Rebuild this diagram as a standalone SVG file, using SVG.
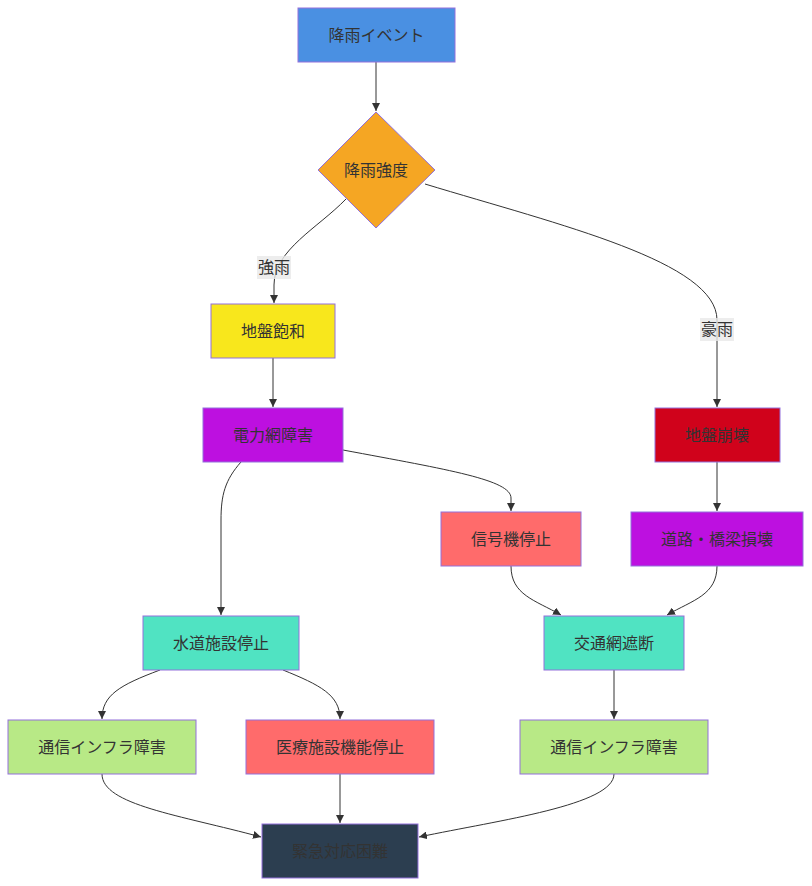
<svg xmlns="http://www.w3.org/2000/svg" width="812" height="886" viewBox="0 0 812 886">
<defs>
<marker id="arr" viewBox="0 0 10 10" refX="10" refY="5" markerWidth="8" markerHeight="8" orient="auto" markerUnits="userSpaceOnUse">
<path d="M0,0 L10,5 L0,10 z" fill="#333"/>
</marker>
<style>
.n{stroke:#9370db;stroke-width:1}
.t{font-family:"Liberation Sans","Noto Sans CJK JP",sans-serif;font-size:16px;fill:#333;text-anchor:middle;dominant-baseline:central}
.e{fill:none;stroke:#333;stroke-width:1;marker-end:url(#arr)}
.lb{fill:#e8e8e8;opacity:0.8}
.lt{font-family:"Liberation Sans","Noto Sans CJK JP",sans-serif;font-size:16px;fill:#333;text-anchor:middle;dominant-baseline:central}
</style>
</defs>
<rect width="812" height="886" fill="#fff"/>
<g id="connectors">
<path class="e" d="M376,62 L376,111"/>
<path class="e" d="M346,199 C318,228 274,250 274,285 L274,303"/>
<path class="e" d="M425,184 C560,225 717,262 717,320 L717,407"/>
<path class="e" d="M273,358 L273,407"/>
<path class="e" d="M343,450 C450,470 511,480 511,498 L511,511"/>
<path class="e" d="M241,462 C225,480 221,495 221,520 L221,615"/>
<path class="e" d="M717,462 L717,511"/>
<path class="e" d="M511,566 C511,595 535,600 561,615"/>
<path class="e" d="M717,566 C717,595 693,600 667,615"/>
<path class="e" d="M160,670 C120,685 102,695 102,719"/>
<path class="e" d="M283,670 C320,685 340,695 340,719"/>
<path class="e" d="M614,670 L614,719"/>
<path class="e" d="M102,774 C102,805 180,815 261,837"/>
<path class="e" d="M340,774 L340,823"/>
<path class="e" d="M614,774 C614,805 500,820 419,837"/>
<rect class="lb" x="257" y="256" width="34" height="23"/>
<text class="lt" x="274" y="267.5">強雨</text>
<rect class="lb" x="700" y="318" width="34" height="23"/>
<text class="lt" x="717" y="329.5">豪雨</text>
</g>
<g id="n1"><rect class="n" x="298" y="8" width="157" height="54" fill="#4a90e2"/><text class="t" x="376.5" y="35">降雨イベント</text></g>
<g id="n2"><polygon class="n" points="376,112 435,170 376,228 318,170" fill="#f5a623"/><text class="t" x="376" y="170">降雨強度</text></g>
<g id="n3"><rect class="n" x="211" y="304" width="124" height="54" fill="#f8e71c"/><text class="t" x="273" y="331">地盤飽和</text></g>
<g id="n4"><rect class="n" x="203" y="408" width="140" height="54" fill="#bd10e0"/><text class="t" x="273" y="435">電力網障害</text></g>
<g id="n5"><rect class="n" x="655" y="408" width="125" height="54" fill="#d0021b"/><text class="t" x="717" y="435">地盤崩壊</text></g>
<g id="n6"><rect class="n" x="441" y="512" width="140" height="54" fill="#ff6b6b"/><text class="t" x="511" y="539">信号機停止</text></g>
<g id="n7"><rect class="n" x="631" y="512" width="172" height="54" fill="#bd10e0"/><text class="t" x="717" y="539">道路・橋梁損壊</text></g>
<g id="n8"><rect class="n" x="143" y="616" width="156" height="54" fill="#50e3c2"/><text class="t" x="221" y="643">水道施設停止</text></g>
<g id="n9"><rect class="n" x="544" y="616" width="140" height="54" fill="#50e3c2"/><text class="t" x="614" y="643">交通網遮断</text></g>
<g id="n10"><rect class="n" x="8" y="720" width="188" height="54" fill="#b8e986"/><text class="t" x="102" y="747">通信インフラ障害</text></g>
<g id="n11"><rect class="n" x="246" y="720" width="188" height="54" fill="#ff6b6b"/><text class="t" x="340" y="747">医療施設機能停止</text></g>
<g id="n12"><rect class="n" x="520" y="720" width="188" height="54" fill="#b8e986"/><text class="t" x="614" y="747">通信インフラ障害</text></g>
<g id="n13"><rect class="n" x="262" y="824" width="156" height="54" fill="#2c3e50"/><text class="t" x="340" y="851">緊急対応困難</text></g>
</svg>
